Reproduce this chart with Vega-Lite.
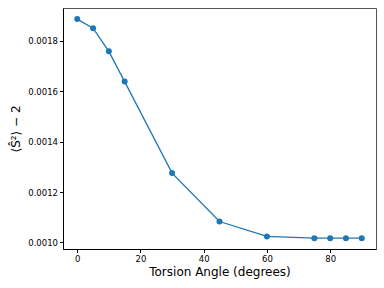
{
  "$schema": "https://vega.github.io/schema/vega-lite/v6.json",
  "width": 313,
  "height": 241,
  "autosize": {"type": "none"},
  "padding": {"left": 63, "top": 8, "right": 8, "bottom": 39},
  "background": "white",
  "config": {
    "view": {"stroke": "#555", "strokeWidth": 1},
    "axis": {
      "labelFont": "DejaVu Sans",
      "titleFont": "DejaVu Sans",
      "labelFontSize": 8.5,
      "titleFontSize": 12,
      "titleFontWeight": "normal",
      "labelColor": "#000",
      "titleColor": "#000",
      "tickColor": "#000",
      "domainColor": "#000",
      "tickSize": 3.5,
      "grid": false,
      "labelPadding": 2
    }
  },
  "data": {
    "values": [
      {"angle": 0, "s": 0.001886},
      {"angle": 5, "s": 0.001850},
      {"angle": 10, "s": 0.001758},
      {"angle": 15, "s": 0.001638},
      {"angle": 30, "s": 0.001275},
      {"angle": 45, "s": 0.001083},
      {"angle": 60, "s": 0.001024},
      {"angle": 75, "s": 0.001017},
      {"angle": 80, "s": 0.001017},
      {"angle": 85, "s": 0.001017},
      {"angle": 90, "s": 0.001017}
    ]
  },
  "encoding": {
    "x": {
      "field": "angle",
      "type": "quantitative",
      "scale": {"domain": [-4.5, 94.5], "nice": false, "zero": false},
      "axis": {"values": [0, 20, 40, 60, 80], "title": "Torsion Angle (degrees)", "titlePadding": 3}
    },
    "y": {
      "field": "s",
      "type": "quantitative",
      "scale": {"domain": [0.000974, 0.00193], "nice": false, "zero": false},
      "axis": {"values": [0.001, 0.0012, 0.0014, 0.0016, 0.0018], "format": ".4f", "title": "⟨Ŝ²⟩ − 2", "titlePadding": 5}
    }
  },
  "layer": [
    {"mark": {"type": "line", "color": "#1f77b4", "strokeWidth": 1.3}},
    {"mark": {"type": "point", "filled": true, "color": "#1f77b4", "opacity": 1, "size": 36}}
  ]
}
